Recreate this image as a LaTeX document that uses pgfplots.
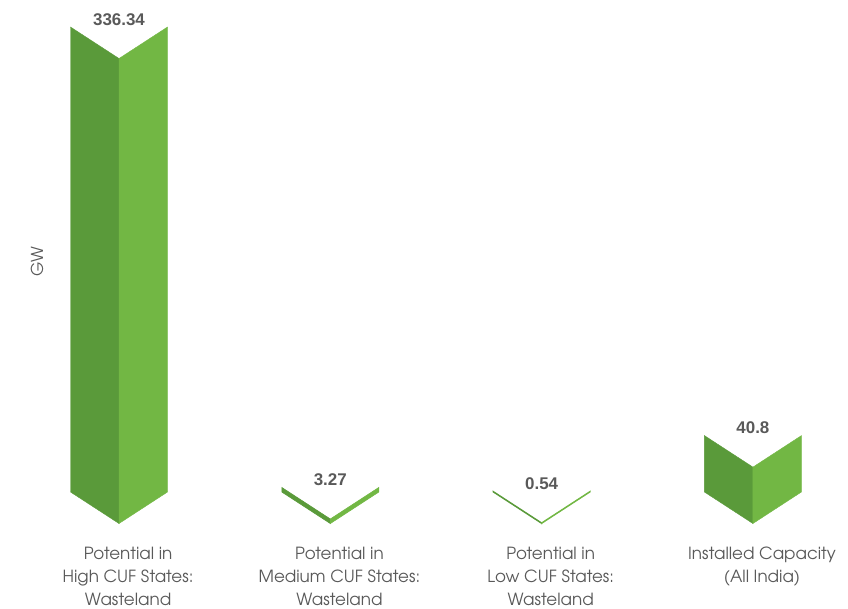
\documentclass[border=0pt]{standalone}
\usepackage{pgfplots}
\pgfplotsset{compat=1.18}
\usepackage{fontspec}
\setmainfont{TeX Gyre Adventor}
\newfontfamily\numfont{Liberation Sans}
\definecolor{gdark}{HTML}{5A9A3A}
\definecolor{glight}{HTML}{72B744}
\definecolor{txt}{HTML}{595959}
\begin{document}
\begin{tikzpicture}
\useasboundingbox (0,0) rectangle (848bp,609bp);
\begin{axis}[at={(0,0)}, anchor=south west, scale only axis,
  width=848bp, height=609bp,
  xmin=-0.5632, xmax=3.450, ymin=-84.63, ymax=355.88,
  hide axis, clip=false]
% bar 1: 336.34
\addplot[fill=gdark, draw=gdark, line width=0.4bp] coordinates {(-0.2295,0) (-0.2295,336.34) (0,313.54) (0,-22.8)} -- cycle;
\addplot[fill=glight, draw=glight, line width=0.4bp] coordinates {(0,-22.8) (0,313.54) (0.2295,336.34) (0.2295,0)} -- cycle;
% bar 2: 3.27
\addplot[fill=gdark, draw=gdark, line width=0.6bp] coordinates {(0.7705,0) (0.7705,3.27) (1,-19.53) (1,-22.8)} -- cycle;
\addplot[fill=glight, draw=glight, line width=0.6bp] coordinates {(1,-22.8) (1,-19.53) (1.2295,3.27) (1.2295,0)} -- cycle;
% bar 3: 0.54
\addplot[fill=gdark, draw=gdark, line width=0.9bp] coordinates {(1.7705,0) (1.7705,0.54) (2,-22.26) (2,-22.8)} -- cycle;
\addplot[fill=glight, draw=glight, line width=0.9bp] coordinates {(2,-22.8) (2,-22.26) (2.2295,0.54) (2.2295,0)} -- cycle;
% bar 4: 40.8
\addplot[fill=gdark, draw=gdark, line width=0.4bp] coordinates {(2.7705,0) (2.7705,40.8) (3,18) (3,-22.8)} -- cycle;
\addplot[fill=glight, draw=glight, line width=0.4bp] coordinates {(3,-22.8) (3,18) (3.2295,40.8) (3.2295,0)} -- cycle;
% value labels
\addplot[draw=none, mark=none, nodes near coords, point meta=explicit symbolic,
  every node near coord/.style={anchor=base, yshift=2bp, inner sep=0pt, text=txt,
    font=\numfont\bfseries\fontsize{17}{20}\selectfont}]
  coordinates {(0,336.34)[336.34] (1,3.27)[3.27] (2,0.54)[0.54] (3,40.8)[40.8]};
% category labels
\pgfplotsinvokeforeach{0,1,2,3}{}
\node[anchor=north, inner sep=0pt, align=center, text=txt, font=\fontsize{16.8}{23}\selectfont] at (axis cs:0.043,-39.8) {Potential in\\High CUF States:\\Wasteland};
\node[anchor=north, inner sep=0pt, align=center, text=txt, font=\fontsize{16.8}{23}\selectfont] at (axis cs:1.043,-39.8) {Potential in\\Medium CUF States:\\Wasteland};
\node[anchor=north, inner sep=0pt, align=center, text=txt, font=\fontsize{16.8}{23}\selectfont] at (axis cs:2.043,-39.8) {Potential in\\Low CUF States:\\Wasteland};
\node[anchor=north, inner sep=0pt, align=center, text=txt, font=\fontsize{16.8}{23}\selectfont] at (axis cs:3.043,-39.8) {Installed Capacity\\(All India)};
\node[rotate=90, inner sep=0pt, text=txt, font=\fontsize{16.5}{20}\selectfont] at (axis cs:-0.388,166.4) {GW};
\end{axis}
\end{tikzpicture}
\end{document}
